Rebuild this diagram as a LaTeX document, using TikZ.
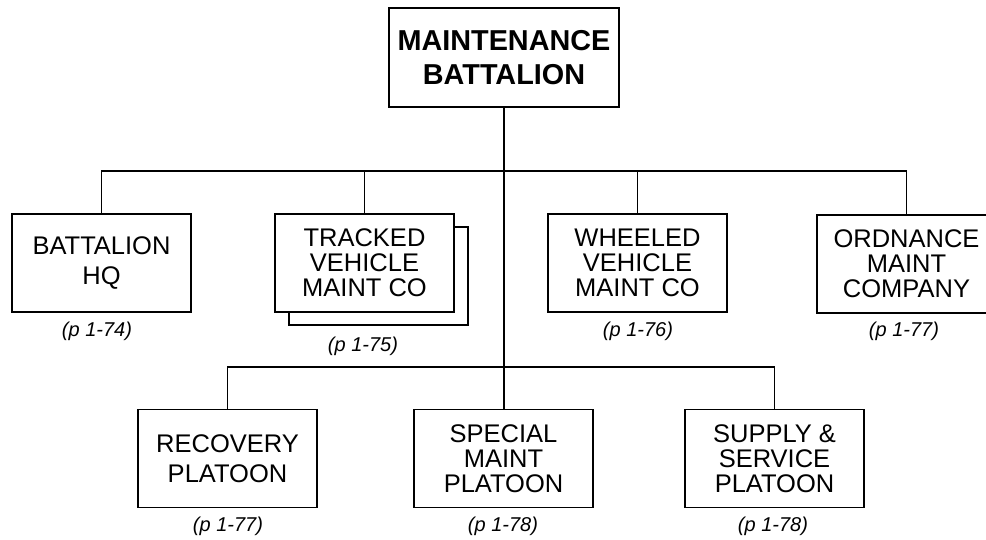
\documentclass[tikz,border=0pt]{standalone}
\usepackage{fontspec}
\setmainfont{Liberation Sans}
\begin{document}
\begin{tikzpicture}[x=1pt,y=-1pt,
  unit/.style={draw, line width=1.3pt, fill=white, inner sep=0pt, align=center,
    minimum width=179pt, minimum height=98pt},
  three/.style={font=\fontsize{25.5}{25}\selectfont},
  two/.style={font=\fontsize{25.5}{29.5}\selectfont},
  pref/.style={font=\fontsize{20}{22}\selectfont\itshape, inner sep=0pt},
  link/.style={line width=1.3pt}]
\useasboundingbox (0,0) rectangle (986,540);
% top
\node[unit, minimum width=230pt, minimum height=99pt,
  font=\fontsize{28.8}{34}\selectfont\bfseries] (top) at (504,57.5) {MAINTENANCE\\BATTALION};
% second row
\node[unit, two] (hq) at (101.5,263) {BATTALION\\HQ};
\node[unit] (trback) at (378.5,276) {};
\node[unit, three] (tr) at (364.5,263) {TRACKED\\VEHICLE\\MAINT CO};
\node[unit, three] (wh) at (637.5,263) {WHEELED\\VEHICLE\\MAINT CO};
\node[unit, three] (ord) at (906.5,264) {ORDNANCE\\MAINT\\COMPANY};
% third row
\node[unit, two] (rec) at (227.5,458.5) {RECOVERY\\PLATOON};
\node[unit, three] (spc) at (503.5,458.5) {SPECIAL\\MAINT\\PLATOON};
\node[unit, three] (sup) at (774.5,458.5) {SUPPLY \&\\SERVICE\\PLATOON};
% page refs
\node[pref] (phq) at (97,331) {(p 1-74)};
\node[pref] (ptr) at (363,346) {(p 1-75)};
\node[pref] (pwh) at (638,331) {(p 1-76)};
\node[pref] (pord) at (904,331) {(p 1-77)};
\node[pref] (prec) at (228,526.5) {(p 1-77)};
\node[pref] (pspc) at (503,526.5) {(p 1-78)};
\node[pref] (psup) at (773,526.5) {(p 1-78)};
% connectors
\coordinate (barA) at (0,171);
\coordinate (barB) at (0,367);
\draw[link] (top.south) -- (top.south |- spc.north);
\draw[link] (hq.north) -- (hq.north |- barA) -- (ord.north |- barA) -- (ord.north);
\draw[link] (tr.north) -- (tr.north |- barA);
\draw[link] (wh.north) -- (wh.north |- barA);
\draw[link] (rec.north) -- (rec.north |- barB) -- (sup.north |- barB) -- (sup.north);
\end{tikzpicture}
\end{document}
